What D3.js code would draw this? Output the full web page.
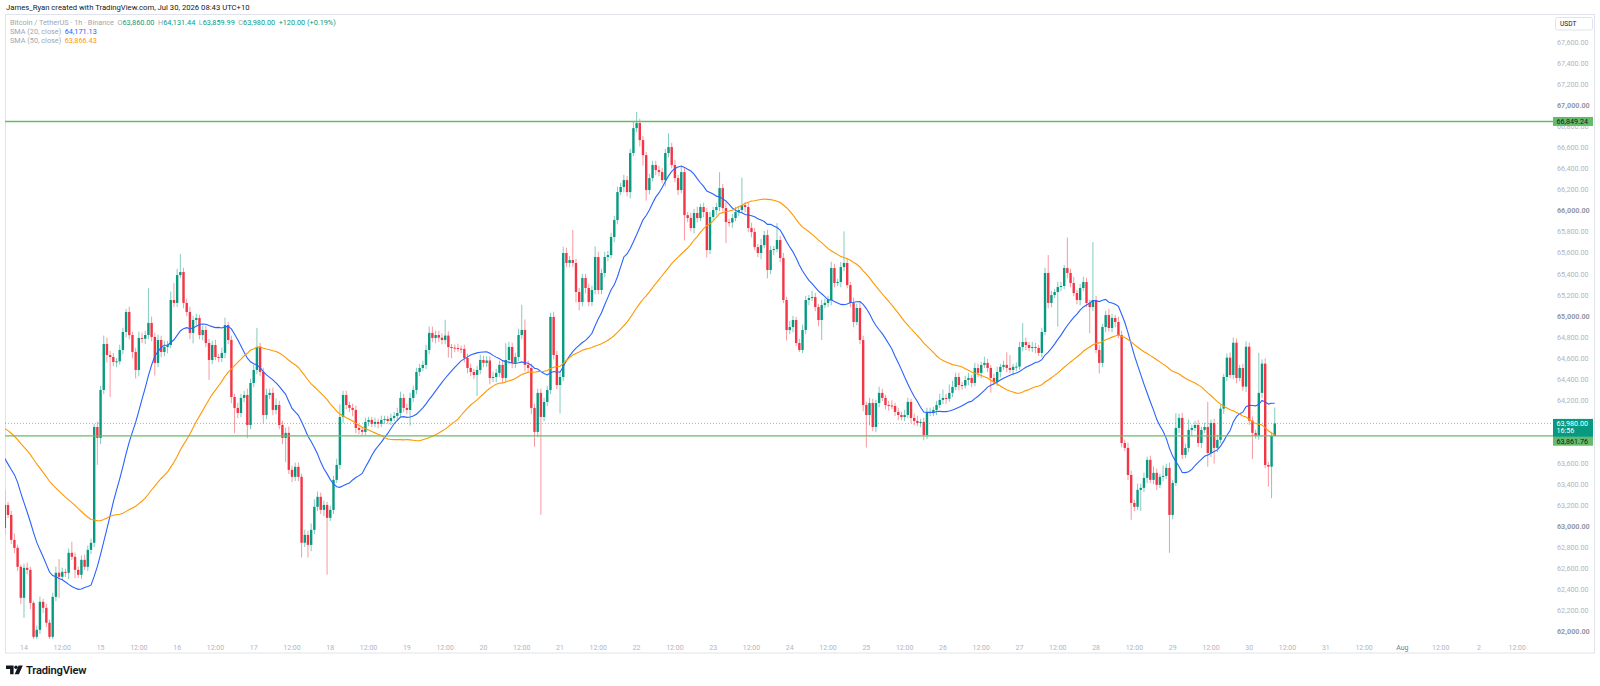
<!DOCTYPE html>
<html>
<head>
<meta charset="utf-8">
<script src="https://cdn.jsdelivr.net/npm/d3@7"></script>
<style>
  body { margin: 0; background: #ffffff; }
  svg { display: block; }
  text { font-family: Roboto, "Noto Sans", sans-serif; }
</style>
</head>
<body>
<svg id="chart" width="1600" height="686"></svg>
<script>
// ---- data (prices in USDT) ----
// first bar is 13 Jul 18:00 (exchange time shown as UTC+10), one bar per hour
const startTime = Date.UTC(2026, 6, 13, 18);

// closes before the visible window, only used to warm up the moving averages
const warmupCloses = [
  64050, 64120, 64210, 64180, 64260, 64300, 64240, 64190, 64150, 64220,
  64280, 64230, 64160, 64110, 64080, 64050, 63990, 63940, 64010, 64060,
  64000, 63950, 64030, 64080, 64020, 63980, 64060, 64150, 64210, 64285,
  64150, 63900, 63770, 64080, 64340, 64446, 64380, 64163, 63970, 63880,
  63700, 63529, 63550, 63400, 63000, 62797, 62850, 62803, 62987
];

const closes = [
  63205, 63110, 62873, 62797, 62617, 62322, 62607, 62588, 62274, 61951,
  62018, 62284, 62227, 62085, 61951, 62331, 62560, 62522, 62569, 62560,
  62750, 62712, 62588, 62541, 62683, 62617, 62778, 62845, 63946, 63842,
  64298, 64735, 64630, 64611, 64564, 64570, 64678, 64849, 65039, 64820,
  64659, 64488, 64792, 64785, 64820, 64935, 64802, 64555, 64773, 64659,
  64706, 64725, 65153, 65125, 65390, 65419, 65125, 65039, 64840, 64963,
  64982, 64820, 64868, 64744, 64583, 64725, 64611, 64602, 64650, 64915,
  64773, 64231, 64127, 64079, 64222, 64250, 63965, 64364, 64488, 64706,
  64469, 64060, 64250, 64270, 64108, 64155, 63965, 63842, 63890, 63538,
  63472, 63567, 63472, 62845, 62920, 62825, 62968, 63187, 63282, 63158,
  63205, 63082, 63158, 63443, 63585, 64041, 64250, 64155, 64127, 64108,
  63937, 63918, 63899, 63994, 64013, 63975, 63994, 63975, 64013, 64022,
  64003, 64032, 64051, 64079, 64222, 64127, 64108, 64222, 64298, 64469,
  64507, 64536, 64678, 64840, 64792, 64820, 64795, 64773, 64815, 64706,
  64700, 64697, 64690, 64688, 64602, 64507, 64469, 64440, 64488, 64583,
  64555, 64578, 64412, 64421, 64460, 64536, 64412, 64583, 64706, 64555,
  64611, 64820, 64868, 64536, 64507, 64127, 63899, 64270, 64041, 64184,
  64298, 64992, 64630, 64345, 64421, 65600, 65505, 65533, 65505, 65229,
  65134, 65362, 65267, 65134, 65248, 65562, 65248, 65410, 65562, 65580,
  65752, 65913, 66179, 66227, 66293, 66179, 66550, 66787, 66835, 66673,
  66530, 66198, 66312, 66436, 66388, 66369, 66293, 66550, 66607, 66436,
  66312, 66198, 66369, 65960, 65932, 65837, 65980, 65932, 66037, 65989,
  65628, 65942, 66008, 66037, 66217, 66027, 65894, 65890, 65932, 65989,
  66008, 66055, 66037, 65837, 65799, 65656, 65600, 65675, 65770, 65438,
  65628, 65637, 65723, 65552, 65153, 64868, 64896, 64963, 64744, 64678,
  64868, 65153, 65172, 65181, 65086, 64963, 65105, 65125, 65153, 65457,
  65314, 65324, 65466, 65505, 65295, 65125, 64944, 65077, 64773, 64155,
  64060, 64174, 63946, 64174, 64270, 64222, 64155, 64150, 64146, 64089,
  64060, 64041, 64060, 64184, 64032, 64003, 63984, 63994, 63870, 64079,
  64089, 64108, 64155, 64203, 64222, 64215, 64270, 64326, 64421, 64345,
  64340, 64393, 64412, 64364, 64507, 64460, 64536, 64555, 64507, 64412,
  64374, 64469, 64517, 64536, 64507, 64488, 64517, 64520, 64706, 64754,
  64725, 64697, 64706, 64697, 64650, 64849, 65410, 65125, 65200, 65229,
  65276, 65286, 65457, 65410, 65314, 65219, 65153, 65267, 65324, 65125,
  65086, 65153, 64678, 64555, 64896, 65010, 64887, 64982, 64944, 64820,
  63794, 63747, 63490, 63224, 63187, 63348, 63367, 63462, 63633, 63443,
  63510, 63396, 63472, 63481, 63557, 63110, 63414, 63937, 64032, 63680,
  63747, 63918, 63937, 63965, 63794, 63918, 63946, 63699, 63984, 63747,
  63823, 64120, 64421, 64605, 64440, 64747, 64412, 64507, 64330, 64709,
  64006, 63890, 63864, 64270, 64548, 63585, 63569, 63860, 63980
];

// wick length above / below the body of each bar (USDT)
const wickUp = [
  140, 30, 40, 60, 30, 20, 40, 50, 30, 20,
  40, 50, 30, 40, 30, 40, 60, 130, 40, 30,
  40, 105, 40, 30, 40, 50, 40, 40, 30, 50,
  40, 80, 60, 40, 40, 30, 50, 40, 30, 50,
  30, 40, 60, 50, 40, 330, 60, 40, 50, 40,
  60, 40, 80, 160, 60, 170, 40, 40, 50, 40,
  40, 30, 40, 40, 40, 40, 50, 30, 50, 70,
  30, 40, 30, 50, 40, 40, 60, 40, 50, 180,
  40, 40, 60, 40, 50, 60, 40, 40, 50, 60,
  40, 40, 40, 30, 50, 40, 60, 70, 50, 40,
  40, 30, 40, 40, 60, 120, 40, 40, 30, 40,
  40, 30, 30, 40, 30, 30, 40, 30, 40, 30,
  30, 40, 40, 50, 60, 40, 40, 50, 40, 40,
  40, 40, 50, 60, 60, 40, 40, 40, 150, 40,
  30, 30, 40, 30, 40, 40, 40, 30, 40, 50,
  40, 40, 40, 50, 40, 40, 40, 160, 50, 40,
  40, 60, 240, 100, 40, 40, 40, 40, 40, 40,
  40, 40, 50, 40, 40, 60, 50, 40, 285, 40,
  40, 40, 40, 40, 40, 100, 50, 40, 50, 40,
  40, 40, 50, 40, 50, 40, 40, 60, 105, 40,
  40, 30, 40, 40, 40, 40, 40, 40, 130, 40,
  50, 30, 60, 40, 30, 50, 40, 60, 30, 40,
  40, 50, 30, 40, 150, 40, 60, 30, 40, 50,
  40, 260, 30, 40, 50, 40, 30, 60, 40, 50,
  40, 30, 160, 40, 50, 30, 60, 40, 30, 40,
  50, 40, 30, 60, 40, 30, 50, 40, 40, 60,
  40, 30, 50, 300, 40, 30, 50, 40, 60, 40,
  30, 50, 40, 30, 60, 40, 30, 40, 50, 30,
  40, 30, 50, 40, 30, 40, 50, 30, 40, 50,
  40, 30, 40, 60, 80, 40, 80, 60, 40, 40,
  30, 40, 50, 30, 50, 40, 30, 60, 40, 30,
  40, 50, 30, 40, 120, 120, 30, 40, 50, 180,
  40, 30, 50, 40, 30, 40, 50, 170, 40, 30,
  50, 40, 30, 290, 40, 60, 30, 40, 50, 40,
  30, 550, 40, 50, 30, 40, 60, 40, 30, 50,
  40, 30, 50, 40, 30, 60, 40, 50, 30, 40,
  60, 40, 30, 100, 40, 50, 30, 140, 40, 50,
  40, 100, 30, 40, 50, 30, 40, 240, 30, 40,
  50, 40, 30, 40, 50, 50, 40, 30, 40, 50,
  40, 40, 30, 380, 40, 50, 30, 40, 151.44
];
const wickDown = [
  65, 30, 40, 50, 40, 60, 190, 40, 60, 20,
  30, 40, 50, 40, 30, 30, 40, 200, 30, 40,
  60, 30, 80, 30, 40, 30, 40, 40, 40, 256,
  60, 40, 70, 380, 40, 50, 30, 40, 50, 40,
  60, 80, 60, 40, 50, 40, 40, 120, 40, 50,
  40, 60, 30, 40, 40, 30, 50, 40, 60, 100,
  50, 40, 50, 40, 190, 40, 30, 40, 40, 50,
  40, 60, 240, 50, 40, 40, 125, 40, 40, 40,
  40, 80, 40, 40, 50, 40, 40, 60, 230, 40,
  50, 40, 40, 140, 40, 120, 60, 40, 40, 40,
  60, 540, 30, 40, 30, 40, 60, 40, 40, 60,
  50, 40, 30, 30, 40, 30, 30, 40, 30, 40,
  30, 40, 30, 40, 40, 40, 40, 150, 40, 40,
  40, 30, 40, 40, 40, 50, 40, 40, 40, 100,
  100, 40, 30, 40, 40, 50, 40, 40, 200, 40,
  40, 40, 60, 40, 50, 40, 50, 40, 40, 50,
  50, 40, 40, 60, 40, 60, 140, 50, 930, 40,
  40, 40, 40, 40, 270, 40, 40, 40, 40, 100,
  80, 40, 50, 40, 40, 40, 40, 40, 40, 40,
  30, 50, 40, 30, 50, 40, 60, 30, 40, 60,
  100, 100, 40, 30, 50, 40, 30, 60, 40, 30,
  40, 50, 30, 240, 40, 30, 50, 40, 30, 50,
  70, 40, 30, 50, 40, 30, 200, 40, 50, 30,
  40, 30, 50, 40, 50, 30, 40, 60, 30, 80,
  40, 50, 30, 40, 30, 100, 40, 50, 30, 20,
  30, 40, 50, 30, 40, 60, 190, 30, 40, 50,
  40, 30, 50, 40, 30, 40, 50, 30, 40, 60,
  310, 100, 40, 50, 40, 30, 40, 50, 30, 40,
  50, 30, 40, 30, 50, 40, 30, 40, 50, 40,
  30, 40, 50, 30, 40, 50, 30, 40, 30, 50,
  40, 30, 50, 40, 30, 40, 50, 30, 40, 140,
  30, 40, 50, 30, 40, 30, 50, 40, 30, 40,
  50, 30, 40, 50, 30, 40, 30, 50, 40, 30,
  330, 40, 30, 50, 40, 30, 40, 50, 30, 40,
  250, 40, 30, 100, 40, 50, 30, 40, 50, 30,
  40, 30, 50, 160, 40, 30, 200, 40, 50, 30,
  40, 50, 30, 40, 30, 360, 40, 30, 50, 40,
  30, 40, 50, 30, 40, 50, 30, 130, 40, 150,
  40, 30, 50, 40, 30, 40, 50, 30, 40, 50,
  40, 250, 30, 40, 50, 30, 190, 300, 0.01
];

const priceTicks = d3.range(62000, 67601, 200);
const drawnLines = [66849.24, 63861.76];     // horizontal lines drawn by the author
const smaLengths = [20, 50];
const smaLegendValues = [64171.13, 63866.43];
const countdown = "16:56";

// ---- layout ----
const W = 1600, H = 686;
const plot = { left: 5, right: 1553, top: 15, bottom: 639 };
const viewStart = new Date(Date.UTC(2026, 6, 13, 18, 3));
const viewEnd = new Date(Date.UTC(2026, 7, 2, 23, 12));

const UP = "#089981", DOWN = "#f23645";
const LINE_GREEN = "#66bb6a";
const SMA_COLORS = ["#2962ff", "#ff9800"];

const x = d3.scaleUtc().domain([viewStart, viewEnd]).range([plot.left, plot.right]);
const y = d3.scaleLinear().domain([62000, 67000]).range([631.7, 105.7]);
const fmt = d3.format(",.2f");

// build the bars
const candles = closes.map((c, i) => {
  const o = i === 0 ? warmupCloses[warmupCloses.length - 1] : closes[i - 1];
  return {
    t: new Date(startTime + i * 3600e3),
    o: o, c: c,
    h: Math.max(o, c) + (wickUp[i] ?? 30),
    l: Math.min(o, c) - (wickDown[i] ?? 30)
  };
});

// simple moving averages of the close
const allCloses = warmupCloses.concat(closes);
const sma = (n) => closes.map((_, i) => {
  const end = i + warmupCloses.length + 1;
  return d3.mean(allCloses.slice(end - n, end));
});

const svg = d3.select("#chart");
svg.append("rect").attr("width", W).attr("height", H).attr("fill", "#ffffff");

svg.append("defs").append("clipPath").attr("id", "plotClip")
  .append("rect")
    .attr("x", plot.left).attr("y", plot.top)
    .attr("width", plot.right - plot.left).attr("height", plot.bottom - plot.top);

// header
svg.append("text")
  .attr("x", 6).attr("y", 10.3)
  .attr("font-size", 7.7).attr("fill", "#131722")
  .text("James_Ryan created with TradingView.com, Jul 30, 2026 08:43 UTC+10");

// frame
svg.append("rect")
  .attr("x", 5.5).attr("y", 14.5).attr("width", 1589).attr("height", 638.5)
  .attr("fill", "none").attr("stroke", "#e0e3eb").attr("stroke-width", 1);

const plotG = svg.append("g").attr("clip-path", "url(#plotClip)");

// last price dotted line
const last = candles[candles.length - 1];
plotG.append("line")
  .attr("x1", plot.left).attr("x2", plot.right)
  .attr("y1", y(last.c)).attr("y2", y(last.c))
  .attr("stroke", UP).attr("stroke-opacity", 0.55)
  .attr("stroke-width", 1).attr("stroke-dasharray", "1,2");

// wicks
plotG.append("g").selectAll("line")
  .data(candles)
  .enter()
  .append("line")
    .attr("x1", d => x(d.t)).attr("x2", d => x(d.t))
    .attr("y1", d => y(d.h)).attr("y2", d => y(d.l))
    .attr("stroke", d => d.c >= d.o ? UP : DOWN)
    .attr("stroke-opacity", 0.5)
    .attr("stroke-width", 1);

// bodies
const bodyW = 2.4;
plotG.append("g").selectAll("rect")
  .data(candles)
  .enter()
  .append("rect")
    .attr("x", d => x(d.t) - bodyW / 2)
    .attr("width", bodyW)
    .attr("y", d => y(Math.max(d.o, d.c)))
    .attr("height", d => Math.max(1, Math.abs(y(d.o) - y(d.c))))
    .attr("fill", d => d.c >= d.o ? UP : DOWN);

// moving averages
smaLengths.forEach((n, j) => {
  const values = sma(n);
  plotG.append("path")
    .datum(values)
    .attr("fill", "none")
    .attr("stroke", SMA_COLORS[j])
    .attr("stroke-width", 1.1)
    .attr("d", d3.line()
      .x((d, i) => x(candles[i].t))
      .y(d => y(d)));
});

// drawn horizontal lines
plotG.selectAll("line.hline")
  .data(drawnLines)
  .enter()
  .append("line")
    .attr("class", "hline")
    .attr("x1", plot.left).attr("x2", plot.right)
    .attr("y1", d => y(d)).attr("y2", d => y(d))
    .attr("stroke", LINE_GREEN).attr("stroke-width", 1.4);

// price scale labels
svg.append("g").selectAll("text")
  .data(priceTicks)
  .enter()
  .append("text")
    .attr("x", 1557)
    .attr("y", d => y(d) + 2.5)
    .attr("font-size", 7.2)
    .attr("font-weight", d => d % 1000 === 0 ? 700 : 400)
    .attr("fill", d => d % 1000 === 0 ? "#9598a1" : "#b2b5be")
    .text(d => fmt(d));

// currency box
svg.append("rect")
  .attr("x", 1555.5).attr("y", 17.5).attr("width", 37).attr("height", 12.5).attr("rx", 2)
  .attr("fill", "#ffffff").attr("stroke", "#e0e3eb");
svg.append("text")
  .attr("x", 1560).attr("y", 26.3)
  .attr("font-size", 6.6).attr("fill", "#131722")
  .text("USDT");

// label for the upper drawn line
const boxW = 40;
svg.append("rect")
  .attr("x", 1553).attr("y", y(drawnLines[0]) - 4.6).attr("width", boxW).attr("height", 9)
  .attr("fill", LINE_GREEN);
svg.append("text")
  .attr("x", 1556.5).attr("y", y(drawnLines[0]) + 2.4)
  .attr("font-size", 7.2).attr("fill", "#131722")
  .text(fmt(drawnLines[0]));

// last price box with countdown
const lastY = y(last.c);
svg.append("rect")
  .attr("x", 1553).attr("y", lastY - 4.5).attr("width", boxW).attr("height", 18)
  .attr("fill", UP);
svg.append("text")
  .attr("x", 1556.5).attr("y", lastY + 2.4)
  .attr("font-size", 7.2).attr("fill", "#ffffff")
  .text(fmt(last.c));
svg.append("text")
  .attr("x", 1556.5).attr("y", lastY + 10)
  .attr("font-size", 7.2).attr("fill", "#ffffff")
  .text(countdown);

// label for the lower drawn line, pushed under the last price box
svg.append("rect")
  .attr("x", 1553).attr("y", lastY + 13.5).attr("width", boxW).attr("height", 8.8)
  .attr("fill", LINE_GREEN);
svg.append("text")
  .attr("x", 1556.5).attr("y", lastY + 20.4)
  .attr("font-size", 7.2).attr("fill", "#131722")
  .text(fmt(drawnLines[1]));

// time scale labels
const timeTicks = d3.utcHour.every(12).range(viewStart, viewEnd);
svg.append("g").selectAll("text")
  .data(timeTicks)
  .enter()
  .append("text")
    .attr("x", d => x(d))
    .attr("y", 649.5)
    .attr("text-anchor", "middle")
    .attr("font-size", 7)
    .attr("fill", d => (d.getUTCHours() === 0 && d.getUTCDate() === 1) ? "#787b86" : "#b2b5be")
    .text(d => d.getUTCHours() === 12 ? "12:00"
      : (d.getUTCDate() === 1 ? d3.utcFormat("%b")(d) : String(d.getUTCDate())));

// legend
const prevClose = closes[closes.length - 2];
const change = last.c - prevClose;
const legend = svg.append("text")
  .attr("x", 10).attr("y", 25.3)
  .attr("font-size", 7.3).attr("fill", "#a3a6af");
legend.append("tspan").text("Bitcoin / TetherUS · 1h · Binance");
[["O", last.o], ["H", last.h], ["L", last.l], ["C", last.c]].forEach(([k, v]) => {
  legend.append("tspan").attr("dx", 3.5).text(k);
  legend.append("tspan").attr("fill", UP).text(fmt(v));
});
legend.append("tspan").attr("dx", 3.5).attr("fill", UP)
  .text((change >= 0 ? "+" : "") + fmt(change) + " (" + (change >= 0 ? "+" : "") +
        (change / prevClose * 100).toFixed(2) + "%)");

smaLengths.forEach((n, j) => {
  const t = svg.append("text")
    .attr("x", 10).attr("y", 34.3 + j * 9)
    .attr("font-size", 7.3).attr("fill", "#a3a6af");
  t.append("tspan").text("SMA (" + n + ", close)");
  t.append("tspan").attr("dx", 3.5).attr("fill", SMA_COLORS[j]).text(fmt(smaLegendValues[j]));
});

// TradingView mark
const logo = svg.append("g").attr("fill", "#131722");
logo.append("path").attr("d", "M6,665.5 H13.6 V674.2 H10.1 V669 H6 Z");
logo.append("circle").attr("cx", 16).attr("cy", 667.3).attr("r", 1.75);
logo.append("path").attr("d", "M18.6,665.5 H22.8 L18.9,674.2 H14.7 Z");
svg.append("text")
  .attr("x", 26).attr("y", 674.2)
  .attr("font-size", 11.2).attr("font-weight", 600).attr("fill", "#131722")
  .attr("letter-spacing", -0.2)
  .text("TradingView");
</script>
</body>
</html>
